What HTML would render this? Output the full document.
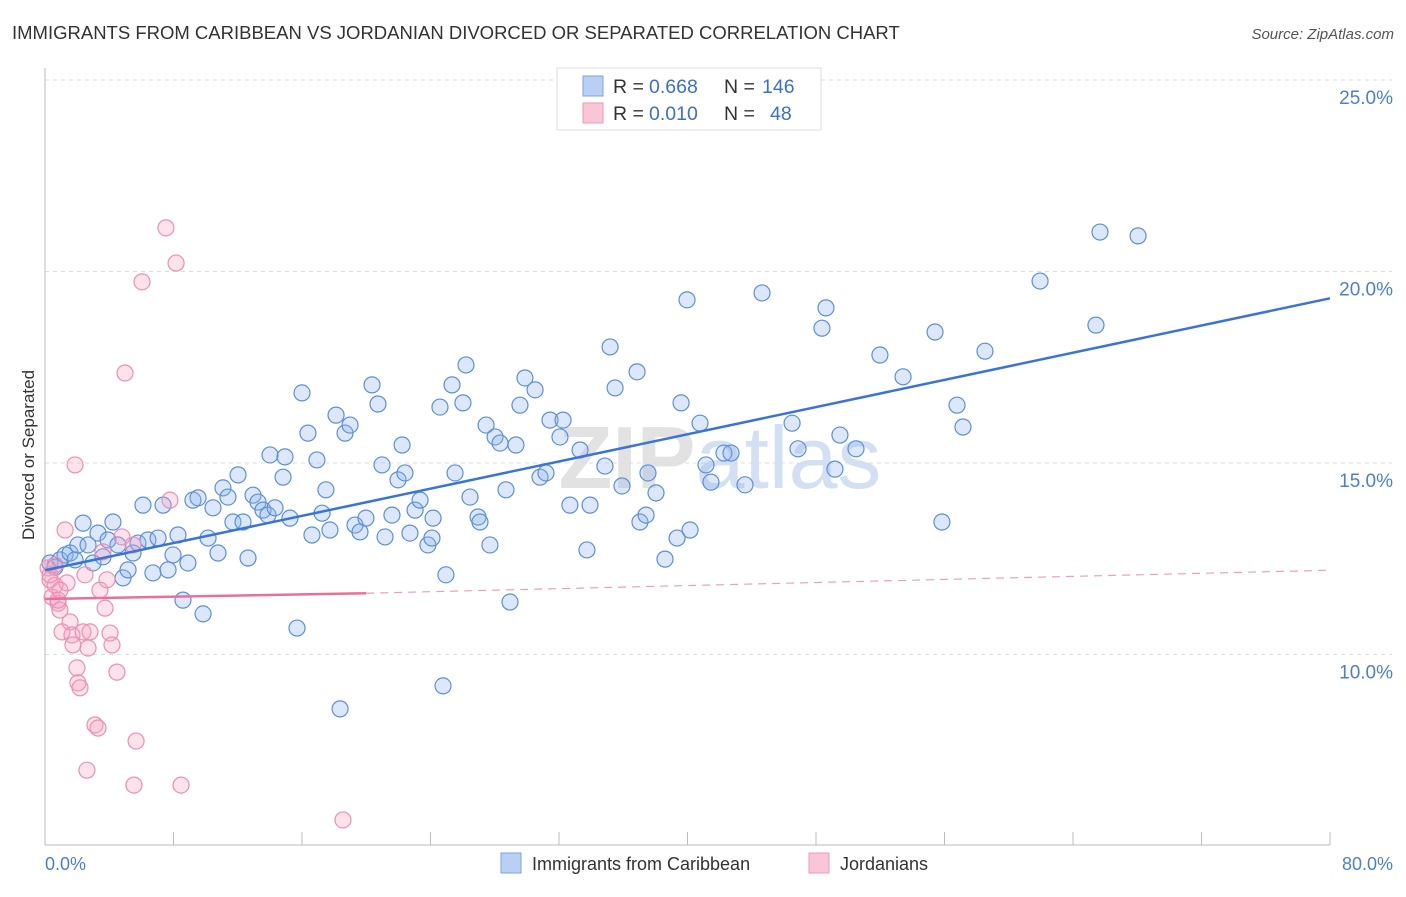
<!DOCTYPE html>
<html><head><meta charset="utf-8"><style>
body{margin:0;background:#fff;font-family:"Liberation Sans",sans-serif;}
svg text{font-family:"Liberation Sans",sans-serif;}
</style></head><body>
<svg width="1406" height="892" viewBox="0 0 1406 892">
<text x="12" y="39" font-size="18.5" fill="#333">IMMIGRANTS FROM CARIBBEAN VS JORDANIAN DIVORCED OR SEPARATED CORRELATION CHART</text>
<text x="1394" y="39" font-size="15" fill="#555" font-style="italic" text-anchor="end">Source: ZipAtlas.com</text>
<text x="720" y="488" font-size="88" fill="#dde6f2" text-anchor="middle" font-weight="bold"><tspan fill="#e2e2e2">ZIP</tspan><tspan font-weight="normal" fill="#d3e0f3">atlas</tspan></text>
<g id="grid"></g>
<g id="axes"></g>
<g id="pts"></g>
<g id="lines"></g>
<text transform="translate(34,455) rotate(-90)" font-size="17" fill="#333" text-anchor="middle">Divorced or Separated</text>
<text x="45" y="870" font-size="18" fill="#4a7fd4">0.0%</text>
<text x="1393" y="870" font-size="18" fill="#4a7fd4" text-anchor="end">80.0%</text>
<g>
<rect x="557" y="68" width="264" height="62" fill="#fff" stroke="#ddd"/>
<rect x="583" y="76" width="20" height="20" fill="#b8d0f4" stroke="#7aa3e0"/>
<rect x="583" y="103" width="20" height="20" fill="#f9c6d6" stroke="#ec9ab5"/>
<text x="613" y="93" font-size="19.5" fill="#333">R = </text>
<text x="649" y="93" font-size="19.5" fill="#3b6fd0">0.668</text>
<text x="724" y="93" font-size="19.5" fill="#333">N = </text>
<text x="762" y="93" font-size="19.5" fill="#3b6fd0">146</text>
<text x="613" y="120" font-size="19.5" fill="#333">R = </text>
<text x="649" y="120" font-size="19.5" fill="#3b6fd0">0.010</text>
<text x="724" y="120" font-size="19.5" fill="#333">N = </text>
<text x="770" y="120" font-size="19.5" fill="#3b6fd0">48</text>
</g>
<g>
<rect x="501" y="853" width="20" height="20" fill="#b8d0f4" stroke="#7aa3e0"/>
<text x="532" y="870" font-size="18" fill="#333">Immigrants from Caribbean</text>
<rect x="809" y="853" width="20" height="20" fill="#f9c6d6" stroke="#ec9ab5"/>
<text x="840" y="870" font-size="18" fill="#333">Jordanians</text>
</g>
</svg>
<script>
const yTicks=[10,15,20,25];
const yTickLabels=["10.0%","15.0%","20.0%","25.0%"];
const xTicks=[0,8,16,24,32,40,48,56,64,72,80];
const bluePx=[[50,563],[55,567],[60,560],[65,555],[70,553],[75,560],[78,545],[83,523],[88,545],[93,563],[98,533],[103,557],[108,540],[113,522],[118,545],[123,578],[128,570],[133,553],[138,543],[143,505],[148,540],[153,573],[158,538],[163,505],[168,570],[173,555],[178,535],[183,600],[188,563],[193,500],[198,498],[203,614],[208,538],[213,508],[218,553],[223,488],[228,497],[233,522],[238,475],[243,522],[248,558],[253,495],[258,502],[263,510],[268,515],[270,455],[275,508],[283,477],[285,457],[290,518],[297,628],[302,393],[308,433],[312,535],[317,460],[322,513],[326,490],[330,530],[336,415],[340,709],[345,433],[350,425],[355,525],[360,532],[366,518],[372,385],[378,404],[382,465],[385,537],[392,515],[398,480],[402,445],[405,473],[410,533],[415,510],[420,500],[428,545],[432,538],[433,518],[440,407],[446,575],[443,686],[452,385],[455,473],[463,403],[466,365],[470,497],[478,517],[480,522],[486,425],[490,545],[495,437],[500,443],[506,490],[510,602],[516,445],[520,405],[525,378],[535,390],[540,477],[546,473],[550,420],[560,437],[563,420],[570,505],[580,450],[587,550],[590,505],[605,466],[610,347],[615,388],[622,486],[637,372],[640,522],[646,515],[648,473],[656,493],[665,559],[677,538],[681,403],[687,300],[690,530],[700,423],[706,465],[711,482],[724,453],[731,453],[745,485],[762,293],[792,423],[798,449],[822,328],[826,308],[835,469],[840,435],[856,449],[880,355],[903,377],[935,332],[942,522],[957,405],[963,427],[985,351],[1040,281],[1096,325],[1100,232],[1138,236]];
const pinkPx=[[48,568],[50,580],[52,597],[55,585],[58,603],[60,610],[62,632],[65,530],[67,583],[70,622],[72,635],[73,645],[75,465],[77,668],[78,683],[80,688],[83,632],[85,575],[87,770],[88,648],[90,632],[95,725],[98,728],[100,590],[103,552],[105,608],[107,580],[110,633],[112,645],[117,672],[122,537],[125,373],[133,545],[136,741],[134,785],[142,282],[166,228],[170,500],[176,263],[181,785],[343,820],[50,575],[55,565],[58,600],[60,590]];
const blueX=bluePx.map(p=>+((p[0]-45)/16.0625).toFixed(2));
const blueY=bluePx.map(p=>+(25-(p[1]-80)/38.3).toFixed(2));
const pinkX=pinkPx.map(p=>+((p[0]-45)/16.0625).toFixed(2));
const pinkY=pinkPx.map(p=>+(25-(p[1]-80)/38.3).toFixed(2));
const blueTrend=[[0,12.2],[80,19.3]];
const pinkTrend=[[0,11.45],[20,11.6],[80,12.2]];
const X=v=>45+v*16.0625, Y=v=>80+(25-v)*38.3;
const NS="http://www.w3.org/2000/svg";
function mk(t,a,p){const e=document.createElementNS(NS,t);for(const k in a)e.setAttribute(k,a[k]);p.appendChild(e);return e;}
const g=document.getElementById('grid'),ax=document.getElementById('axes'),pt=document.getElementById('pts'),ln=document.getElementById('lines');
yTicks.forEach((v,i)=>{
 const l=mk('line',{x1:45,x2:1392,y1:Y(v),y2:Y(v),stroke:'#ddd','stroke-dasharray':'4,4'},g);
 
 
 const t=mk('text',{x:1393,y:Y(v)+24,'font-size':19,fill:'#4a7fd4','text-anchor':'end'},g);
 t.textContent=yTickLabels[i];
 
 
});
const yax=mk('line',{x1:45,x2:45,y1:68,y2:845,stroke:'#bbb'},ax);


const xax=mk('line',{x1:45,x2:1330,y1:845,y2:845,stroke:'#bbb'},ax);


xTicks.forEach(v=>{const t=mk('line',{x1:X(v),x2:X(v),y1:832,y2:845,stroke:'#bbb'},ax);
 
 });
blueX.forEach((x,i)=>{const c=mk('circle',{cx:X(x),cy:Y(blueY[i]),r:8,fill:'rgba(140,180,235,0.3)',stroke:'#5b8fdb','stroke-width':1.2},pt);
 
 });
pinkX.forEach((x,i)=>{const c=mk('circle',{cx:X(x),cy:Y(pinkY[i]),r:8,fill:'rgba(245,160,190,0.3)',stroke:'#ec8fb0','stroke-width':1.2},pt);
 
 });
const bl=mk('line',{x1:X(blueTrend[0][0]),y1:Y(blueTrend[0][1]),x2:X(blueTrend[1][0]),y2:Y(blueTrend[1][1]),stroke:'#3a74d6','stroke-width':2.5},ln);


const pl=mk('line',{x1:X(pinkTrend[0][0]),y1:Y(pinkTrend[0][1]),x2:X(pinkTrend[1][0]),y2:Y(pinkTrend[1][1]),stroke:'#e8709a','stroke-width':2.5},ln);


const pd=mk('line',{x1:X(pinkTrend[1][0]),y1:Y(pinkTrend[1][1]),x2:X(pinkTrend[2][0]),y2:Y(pinkTrend[2][1]),stroke:'#eba0ba','stroke-width':1.2,'stroke-dasharray':'8,6'},ln);


</script>
</body></html>
